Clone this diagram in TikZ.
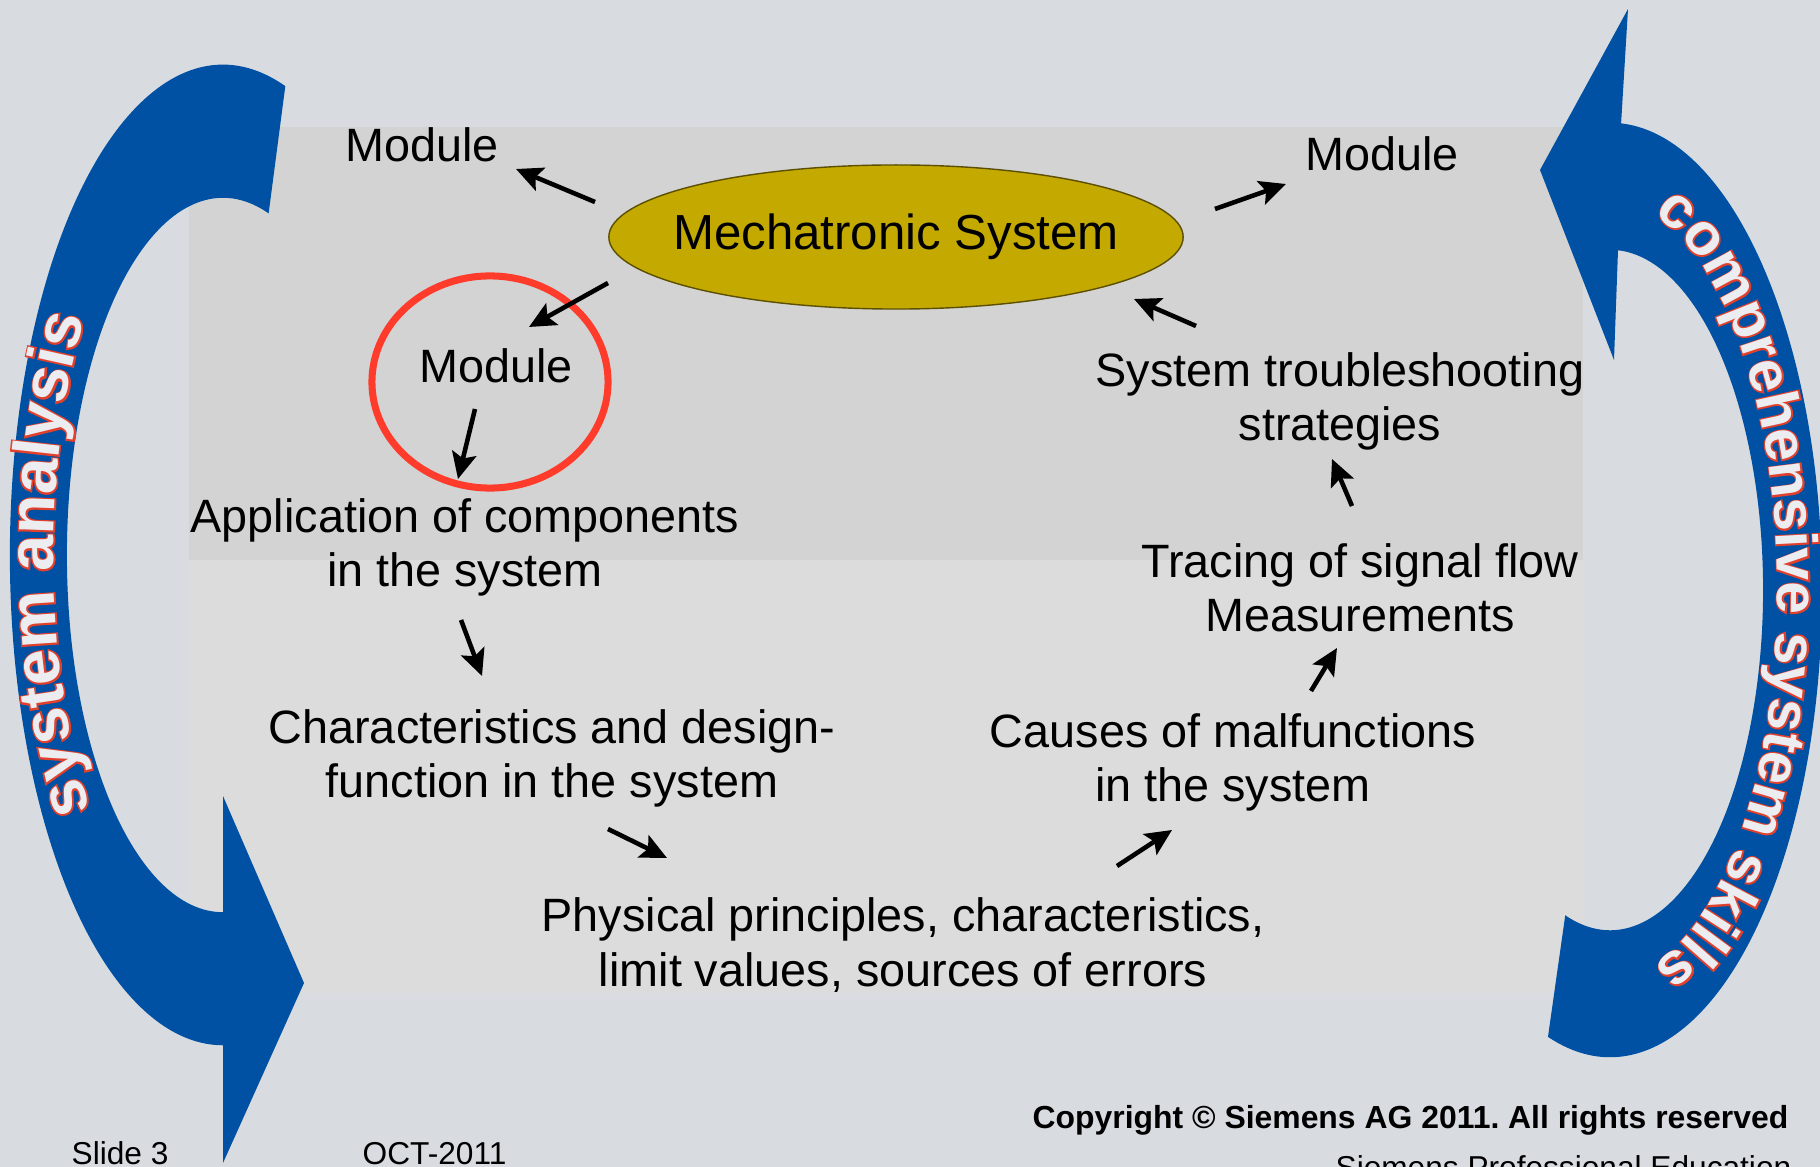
\documentclass[tikz,border=0pt]{standalone}
\usepackage{fontspec}
\setmainfont{Liberation Sans}
\newfontfamily\arcfontR{Liberation Sans}[BoldFeatures={FakeBold=5}]
\newfontfamily\arcfontW{Liberation Sans}
\usetikzlibrary{shapes.geometric,arrows.meta,decorations.text}
\definecolor{bgc}{HTML}{D8DCE1}
\definecolor{panelA}{HTML}{D3D3D3}
\definecolor{panelB}{HTML}{DCDCDC}
\definecolor{arcblue}{HTML}{0051A3}
\definecolor{mechfill}{HTML}{C4AA00}
\definecolor{mechline}{HTML}{5C5000}
\definecolor{ringred}{HTML}{FF3B2B}
\definecolor{arcred}{HTML}{E0402C}
\definecolor{arcwhite}{HTML}{ECEDF1}
\newcommand\arcRL{\arcfontR\bfseries\fontsize{18.5}{20}\selectfont}
\newcommand\arcWL{\arcfontW\bfseries\fontsize{18.5}{20}\selectfont}
\newcommand\arcRR{\arcfontR\bfseries\fontsize{16.8}{20}\selectfont}
\newcommand\arcWR{\arcfontW\bfseries\fontsize{16.8}{20}\selectfont}
\frenchspacing
\begin{document}
\begin{tikzpicture}[x=0.01cm,y=0.01cm,
  txt/.style={font=\fontsize{13.3}{15.6}\selectfont, inner sep=0pt, align=center, anchor=base},
  foot/.style={font=\fontsize{9}{11}\selectfont, inner sep=0pt},
  arr/.style={line width=1.3pt, -{Stealth[length=7.5pt,width=7pt,inset=1.5pt]}},
]
\useasboundingbox (0,0) rectangle (1820,-1167);
\fill[bgc] (0,0) rectangle (1820,-1167);
\fill[panelA] (189,-127) rectangle (1583,-560);
\fill[panelB] (189,-560) rectangle (1583,-993);
% left blue arrow
\fill[arcblue, shift={(223,-555)}]
  (73:2.13cm and 4.90cm) arc[start angle=73, end angle=270, x radius=2.13cm, y radius=4.90cm]
  -- (0,-608) -- (81,-428) -- (0,-241) -- (270:1.56cm and 3.57cm)
  arc[start angle=270, end angle=73, x radius=1.56cm, y radius=3.57cm] -- cycle;
% right blue arrow
\fill[arcblue, shift={(1610,-590)}]
  (87:2.12cm and 4.67cm) arc[start angle=87, end angle=-107, x radius=2.12cm, y radius=4.67cm]
  -- (-107:1.53cm and 3.40cm) arc[start angle=-107, end angle=87, x radius=1.53cm, y radius=3.40cm]
  -- (4,230) -- (-70,420) -- (18,581) -- cycle;
% arc texts
\path[shift={(223,-555)}, decorate, decoration={text along path, text align=center, text color=arcred,
  text={|\arcRL|system analysis}}]
  (237:1.695cm and 4.085cm) arc[start angle=237, end angle=127, x radius=1.695cm, y radius=4.085cm];
\path[shift={(223,-555)}, decorate, decoration={text along path, text align=center, text color=arcwhite,
  text={|\arcWL|system analysis}}]
  (237:1.695cm and 4.085cm) arc[start angle=237, end angle=127, x radius=1.695cm, y radius=4.085cm];
\path[shift={(1610,-590)}, decorate, decoration={text along path, text align=center, text color=arcred,
  text={|\arcRR|comprehensive system skills}}]
  (89:1.675cm and 3.885cm) arc[start angle=89, end angle=-89, x radius=1.675cm, y radius=3.885cm];
\path[shift={(1610,-590)}, decorate, decoration={text along path, text align=center, text color=arcwhite,
  text={|\arcWR|comprehensive system skills}}]
  (89:1.675cm and 3.885cm) arc[start angle=89, end angle=-89, x radius=1.675cm, y radius=3.885cm];
% central nodes
\node[ellipse, draw=mechline, line width=0.4pt, fill=mechfill, minimum width=5.74cm, minimum height=1.44cm,
  inner sep=0pt] (mechE) at (896,-237) {};
\node[inner sep=0pt, font=\fontsize{14}{16}\selectfont] (mech) at (896,-237) {Mechatronic System};
\node[ellipse, draw=ringred, line width=2pt, minimum width=2.36cm, minimum height=2.12cm, inner sep=0pt] (ring) at (490,-382) {};
\node[txt] (modTL) at (422,-162) {Module};
\node[txt] (modTR) at (1382,-171) {Module};
\node[txt] (modC) at (496,-383) {Module};
\node[txt] (app) at (465,-587) {Application of components\\in the system};
\node[txt] (char) at (552,-798) {Characteristics and design-\\function in the system};
\node[txt] (phys) at (903,-986) {Physical principles, characteristics,\\limit values, sources of errors};
\node[txt] (cause) at (1233,-802) {Causes of malfunctions\\in the system};
\node[txt] (trace) at (1360,-632) {Tracing of signal flow\\Measurements};
\node[txt] (strat) at (1340,-441) {System troubleshooting\\strategies};
% footer
\node[inner sep=0pt, font=\bfseries\fontsize{9.07}{11}\selectfont, anchor=base east] (copy) at (1789,-1129) {Copyright © Siemens AG 2011. All rights reserved};
\node[foot, anchor=base east] (spe) at (1792,-1178) {Siemens Professional Education};
\node[foot, anchor=base west] (slide) at (71,-1165) {Slide 3};
\node[foot, anchor=base west] (date) at (362,-1165) {OCT-2011};
% arrows
\coordinate (a1s) at (595,-202);  \coordinate (a1e) at (516,-169);
\coordinate (a2s) at (1215,-209); \coordinate (a2e) at (1286,-184);
\coordinate (a3s) at (608,-283);  \coordinate (a3e) at (529,-327);
\coordinate (a4s) at (475,-409);  \coordinate (a4e) at (458,-479);
\coordinate (a5s) at (461,-620);  \coordinate (a5e) at (482,-676);
\coordinate (a6s) at (608,-829);  \coordinate (a6e) at (667,-858);
\coordinate (a7s) at (1117,-866); \coordinate (a7e) at (1172,-830);
\coordinate (a8s) at (1311,-691); \coordinate (a8e) at (1337,-648);
\coordinate (a9s) at (1352,-506); \coordinate (a9e) at (1332,-459);
\coordinate (a10s) at (1196,-326); \coordinate (a10e) at (1134,-299);
\foreach \i in {1,...,10} {\draw[arr] (a\i s) -- (a\i e);}
\end{tikzpicture}
\end{document}
